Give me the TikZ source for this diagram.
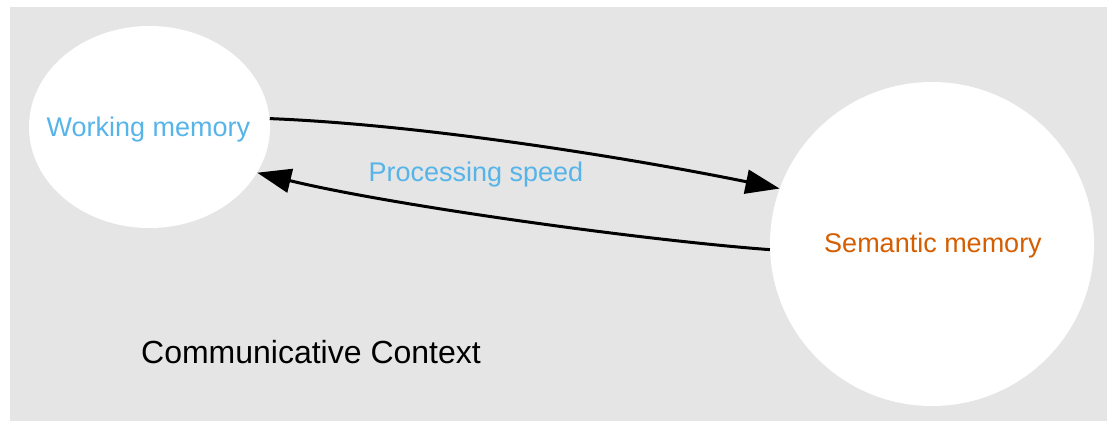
\documentclass[tikz,border=0pt]{standalone}
\usepackage{fontspec}
\setmainfont{Liberation Sans}
\usetikzlibrary{shapes.geometric,arrows.meta}
\definecolor{bggray}{HTML}{E5E5E5}
\definecolor{skyblue}{HTML}{56B4E9}
\definecolor{vermil}{HTML}{D55E00}
\tikzset{
  memnode/.style={fill=white,draw=none,inner sep=0pt},
  lbl/.style={font=\fontsize{27}{30}\selectfont,inner sep=0pt,anchor=base},
  edge/.style={line width=3pt,-{Triangle[length=34pt,width=24pt]}}
}
\begin{document}
\begin{tikzpicture}[x=1pt,y=-1pt]
\useasboundingbox (0,0) rectangle (1107,421);
\fill[bggray] (10,7) rectangle (1107,421);
\node[memnode,ellipse,minimum width=241pt,minimum height=202pt] (wm) at (149.5,127) {};
\node[memnode,circle,minimum size=324pt] (sm) at (932,244) {};
\node[lbl,text=skyblue] (wmt) at (148.5,136) {Working memory};
\node[lbl,text=vermil] (smt) at (933,252.5) {Semantic memory};
\node[lbl,text=skyblue] (ps) at (476,181.5) {Processing speed};
\node[font=\fontsize{32}{36}\selectfont,inner sep=0pt,anchor=base] (ctx) at (311,363) {Communicative Context};
\draw[edge] (wm.4) .. controls (430,125) and (640,160) .. (sm.160);
\draw[edge] (sm.182) .. controls (640,240) and (390,205) .. (wm.-23);
\end{tikzpicture}
\end{document}
